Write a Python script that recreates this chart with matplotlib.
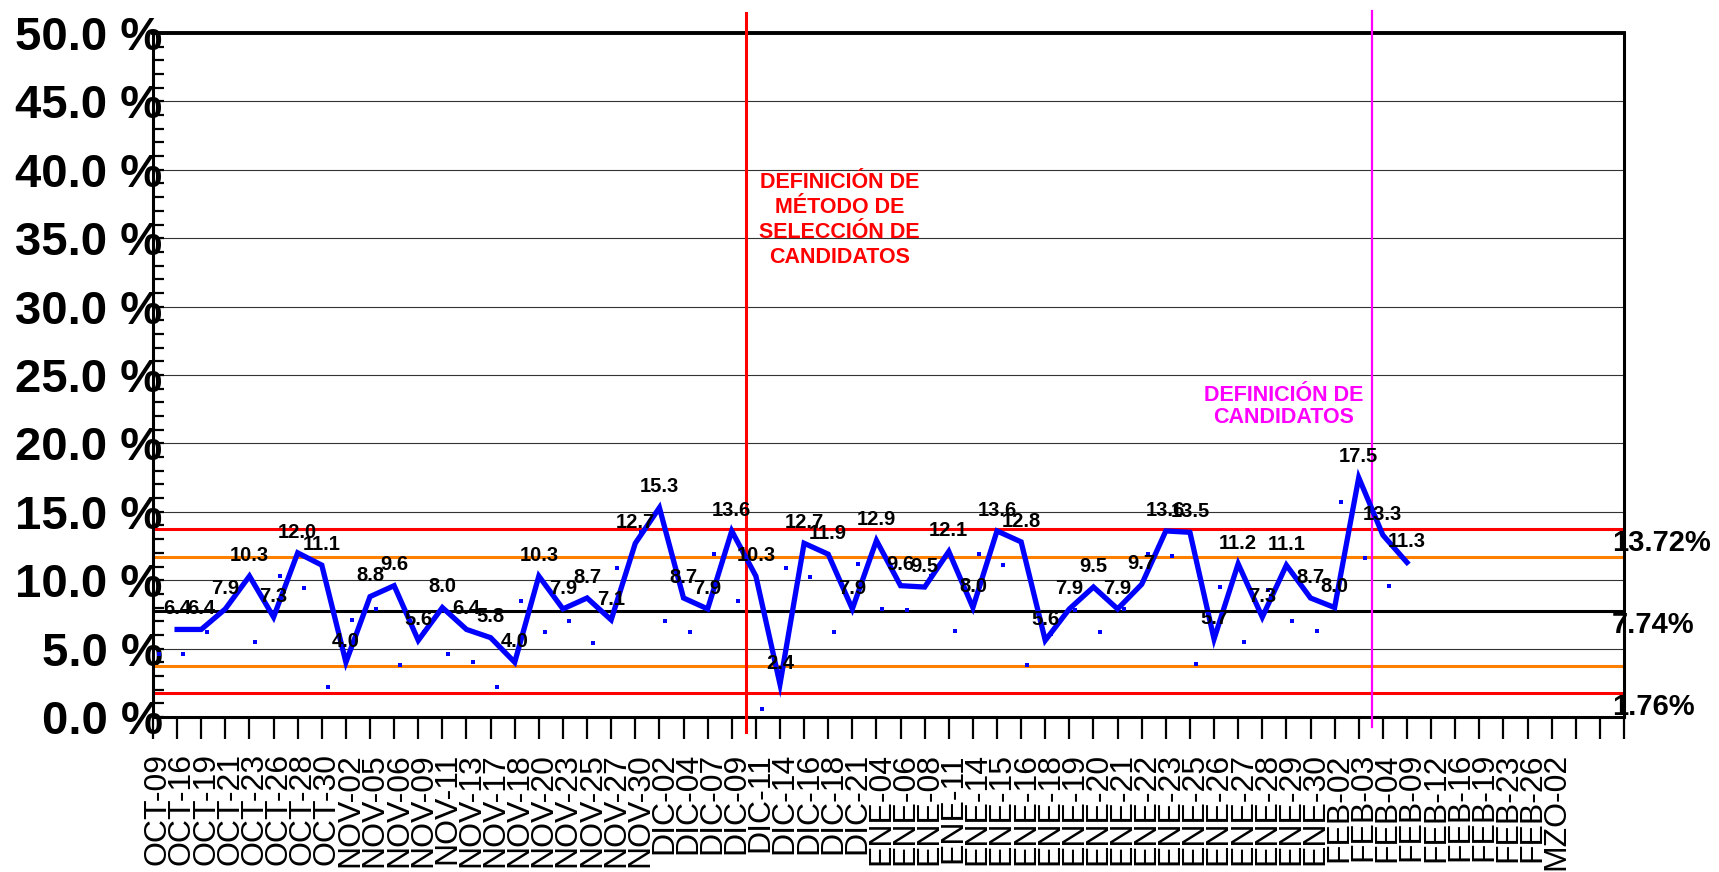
import matplotlib
matplotlib.use('Agg')
import matplotlib.pyplot as plt
from matplotlib.ticker import MultipleLocator

plt.rcParams['font.family'] = ['Liberation Sans', 'DejaVu Sans']

# fechas del eje x
fechas = ['OCT-09', 'OCT-16', 'OCT-19', 'OCT-21', 'OCT-23', 'OCT-26', 'OCT-28', 'OCT-30',
          'NOV-02', 'NOV-05', 'NOV-06', 'NOV-09', 'NOV-11', 'NOV-13', 'NOV-17', 'NOV-18',
          'NOV-20', 'NOV-23', 'NOV-25', 'NOV-27', 'NOV-30',
          'DIC-02', 'DIC-04', 'DIC-07', 'DIC-09', 'DIC-11', 'DIC-14', 'DIC-16', 'DIC-18', 'DIC-21',
          'ENE-04', 'ENE-06', 'ENE-08', 'ENE-11', 'ENE-14', 'ENE-15', 'ENE-16', 'ENE-18',
          'ENE-19', 'ENE-20', 'ENE-21', 'ENE-22', 'ENE-23', 'ENE-25', 'ENE-26', 'ENE-27',
          'ENE-28', 'ENE-29', 'ENE-30',
          'FEB-02', 'FEB-03', 'FEB-04', 'FEB-09', 'FEB-12', 'FEB-16', 'FEB-19', 'FEB-23', 'FEB-26',
          'MZO-02']

# porcentaje por fecha (linea azul)
porcentaje = [6.4, 6.4, 7.9, 10.3, 7.3, 12.0, 11.1, 4.0, 8.8, 9.6, 5.6, 8.0, 6.4, 5.8, 4.0,
              10.3, 7.9, 8.7, 7.1, 12.7, 15.3, 8.7, 7.9, 13.6, 10.3, 2.4, 12.7, 11.9, 7.9, 12.9,
              9.6, 9.5, 12.1, 8.0, 13.6, 12.8, 5.6, 7.9, 9.5, 7.9, 9.7, 13.6, 13.5, 5.7, 11.2,
              7.3, 11.1, 8.7, 8.0, 17.5, 13.3, 11.3]

# puntos azules sueltos
puntos = [4.6, 4.6, 6.2, 8.5, 5.5, 10.3, 9.4, 2.2, 7.1, 7.9, 3.8, 6.2, 4.6, 4.0, 2.2,
          8.5, 6.2, 7.0, 5.4, 10.9, 13.5, 7.0, 6.2, 11.9, 8.5, 0.6, 10.9, 10.2, 6.2, 11.2,
          7.9, 7.8, 10.3, 6.3, 11.9, 11.1, 3.8, 6.1, 7.8, 6.2, 7.9, 11.9, 11.8, 3.9, 9.5,
          5.5, 9.3, 7.0, 6.3, 15.7, 11.6, 9.6]

# limites de control
lsc = 13.72
lc = 7.74
lic = 1.76
ls2 = 11.73
li2 = 3.75

n_slots = 61

fig = plt.figure(figsize=(17.19, 8.72), dpi=100)
ax = fig.add_axes([153 / 1719, 155 / 872, 1471 / 1719, 684 / 872])
ax.set_xlim(0, n_slots)
ax.set_ylim(0, 50)

for s in ax.spines.values():
    s.set_linewidth(2.2)
ax.spines['top'].set_linewidth(2.8)

# rejilla
for v in range(5, 50, 5):
    ax.axhline(v, color='#333333', lw=0.8, zorder=1)

ax.axhline(lsc, color='#ff0000', lw=2.2, zorder=2)
ax.axhline(lic, color='#ff0000', lw=2.2, zorder=2)
ax.axhline(ls2, color='#ff8000', lw=2.2, zorder=2)
ax.axhline(li2, color='#ff8000', lw=2.2, zorder=2)
ax.axhline(lc, color='black', lw=2.2, zorder=2)

x_linea = [i + 1 for i in range(len(porcentaje))]
x_puntos = [i + 0.25 for i in range(len(puntos))]

ax.plot(x_linea, porcentaje, color='#0000ff', lw=3.8, solid_joinstyle='miter', zorder=4)
ax.plot(x_puntos, puntos, 's', color='#0000ff', ms=3, mew=0, ls='none', zorder=5)

for x, v in zip(x_linea, porcentaje):
    ax.annotate(f'{v:.1f}', (x, v), xytext=(0, 11), textcoords='offset points',
                ha='center', va='baseline', fontsize=14.5, fontweight='bold', zorder=6)

# lineas verticales de eventos
ax.axvline(24.6, ymin=-0.022, ymax=1.029, color='#ff0000', lw=2.2, clip_on=False, zorder=3)
ax.axvline(50.55, ymin=-0.015, ymax=1.032, color='#ff00ff', lw=1.6, clip_on=False, zorder=3)

ax.text(28.46, 36.3, 'DEFINICIÓN DE\nMÉTODO DE\nSELECCIÓN DE\nCANDIDATOS',
        color='#ff0000', ha='center', va='center', multialignment='center',
        fontsize=15.5, fontweight='bold', linespacing=1.25)
ax.text(46.9, 22.7, 'DEFINICIÓN DE\nCANDIDATOS', color='#ff00ff', ha='center', va='center',
        multialignment='center', fontsize=15.5, fontweight='bold', linespacing=1.12)

# etiquetas de limites a la derecha
for v in (lsc, lc, lic):
    ax.text(0.992, v, f'{v:.2f}%', transform=ax.get_yaxis_transform(), ha='left', va='top',
            fontsize=21, fontweight='bold', clip_on=False)

# eje y
ax.set_yticks(range(0, 51, 5))
ax.set_yticklabels([f'{v:.1f} %' for v in range(0, 51, 5)], fontsize=34, fontweight='bold')
ax.yaxis.set_minor_locator(MultipleLocator(1))
ax.tick_params(axis='y', which='major', direction='in', length=8, width=1.6, pad=-7)
ax.tick_params(axis='y', which='minor', direction='in', length=8, width=1.6)

# eje x
ax.set_xticks(range(n_slots + 1))
ax.set_xticklabels([])
ax.set_xticks([i + 0.2 for i in range(len(fechas))], minor=True)
ax.set_xticklabels(fechas, minor=True, rotation=90, fontsize=23)
ax.tick_params(axis='x', which='major', direction='out', length=16, width=1.6)
ax.tick_params(axis='x', which='minor', length=0, pad=26)

fig.savefig('out.png', dpi=100)
